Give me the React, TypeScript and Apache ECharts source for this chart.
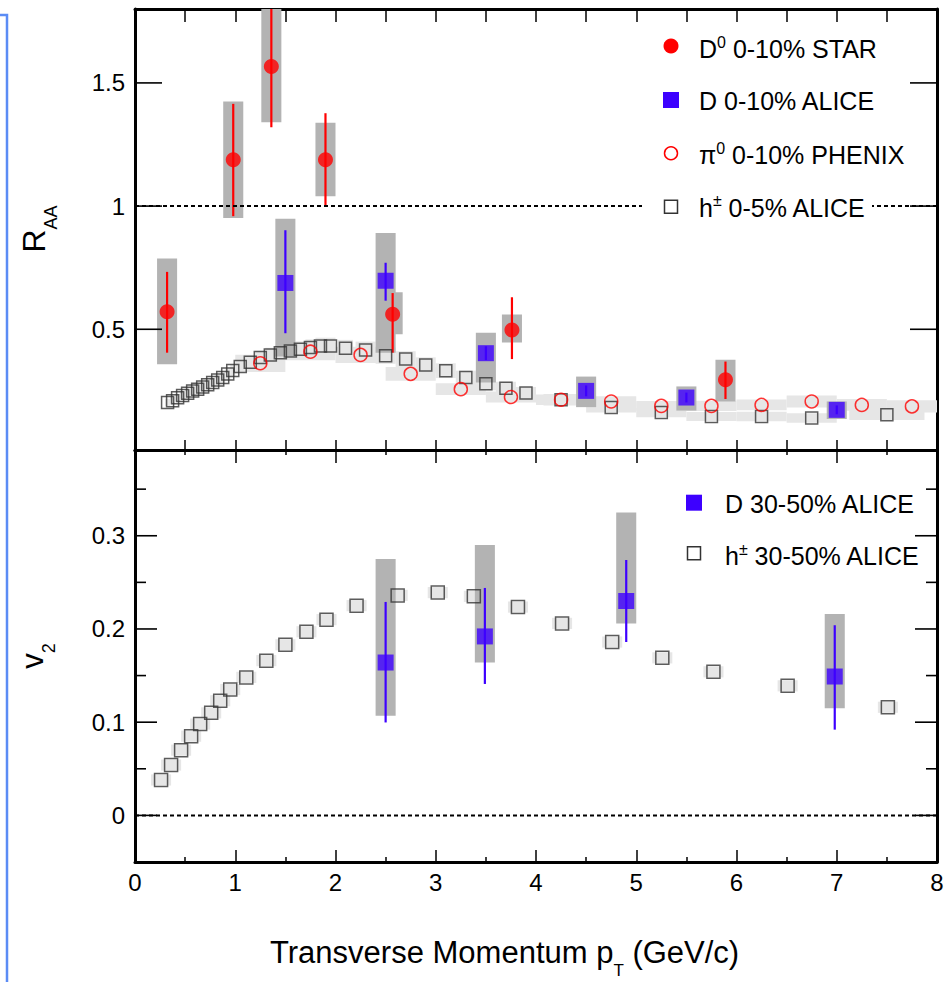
import React, { useEffect, useRef } from 'react';
import * as echarts from 'echarts';

const FONT = '"Liberation Sans", Arial, Helvetica, sans-serif';

// ---------- axes ----------
const ptRange = [0, 8];
const raaRange = [0.01, 1.8];
const v2Range = [-0.05, 0.392];
const raaTickValues = [0.5, 1, 1.5];
const v2TickValues = [0, 0.1, 0.2, 0.3];
const v2MinorTickValues = [0.05, 0.15, 0.25, 0.35];
const raaReference = [[0, 1], [8, 1]];
const v2Reference = [[0, 0], [8, 0]];

// ---------- R_AA : D0 0-10% STAR ----------
const d0StarPt = [0.32, 0.98, 1.36, 1.9, 2.57, 3.76, 5.89];
const d0StarRaa = [0.571, 1.188, 1.567, 1.188, 0.561, 0.497, 0.295];
const d0StarStatLo = [0.405, 0.959, 1.32, 0.999, 0.405, 0.379, 0.217];
const d0StarStatHi = [0.733, 1.415, 1.9, 1.377, 0.647, 0.63, 0.369];
const d0StarSysLo = [0.358, 0.952, 1.34, 1.04, 0.48, 0.446, 0.207];
const d0StarSysHi = [0.787, 1.425, 1.9, 1.338, 0.65, 0.56, 0.376];

// ---------- R_AA : D 0-10% ALICE ----------
const dAliceRaaPt = [1.5, 2.5, 3.5, 4.5, 5.5, 7.0];
const dAliceRaa = [0.688, 0.697, 0.403, 0.25, 0.223, 0.173];
const dAliceRaaStatLo = [0.484, 0.616, 0.375, 0.228, 0.203, 0.155];
const dAliceRaaStatHi = [0.902, 0.77, 0.431, 0.272, 0.243, 0.191];
const dAliceRaaSysLo = [0.39, 0.405, 0.284, 0.184, 0.17, 0.136];
const dAliceRaaSysHi = [0.949, 0.891, 0.486, 0.308, 0.268, 0.207];

// ---------- R_AA : pi0 0-10% PHENIX ----------
const pi0Pt = [1.25, 1.75, 2.25, 2.75, 3.25, 3.75, 4.25, 4.75, 5.25, 5.75, 6.25, 6.75, 7.25, 7.75];
const pi0Raa = [0.362, 0.409, 0.396, 0.319, 0.257, 0.225, 0.214, 0.207, 0.189, 0.189, 0.193, 0.207, 0.193, 0.187];
const pi0Sys = [0.035, 0.035, 0.033, 0.028, 0.024, 0.022, 0.021, 0.021, 0.02, 0.021, 0.022, 0.024, 0.024, 0.025];

// ---------- R_AA : h+- 0-5% ALICE ----------
const hRaaPt = [0.325, 0.375, 0.425, 0.475, 0.525, 0.575, 0.625, 0.675, 0.725, 0.775, 0.825, 0.875, 0.925, 0.975,
  1.05, 1.15, 1.25, 1.35, 1.45, 1.55, 1.65, 1.75, 1.85, 1.95,
  2.1, 2.3, 2.5, 2.7, 2.9, 3.1, 3.3, 3.5, 3.7, 3.9,
  4.25, 4.75, 5.25, 5.75, 6.25, 6.75, 7.5];
const hRaa = [0.203, 0.21, 0.222, 0.231, 0.24, 0.249, 0.257, 0.266, 0.275, 0.284, 0.294, 0.304, 0.318, 0.333,
  0.349, 0.366, 0.385, 0.396, 0.405, 0.412, 0.419, 0.426, 0.432, 0.432,
  0.423, 0.416, 0.393, 0.379, 0.355, 0.332, 0.304, 0.279, 0.261, 0.241,
  0.214, 0.183, 0.162, 0.146, 0.146, 0.14, 0.153];
const hRaaSys = [0.015, 0.015, 0.016, 0.016, 0.017, 0.017, 0.018, 0.018, 0.019, 0.019, 0.02, 0.021, 0.022, 0.023,
  0.024, 0.026, 0.028, 0.029, 0.03, 0.031, 0.032, 0.033, 0.034, 0.034,
  0.034, 0.034, 0.033, 0.032, 0.031, 0.03, 0.028, 0.027, 0.026, 0.025,
  0.023, 0.021, 0.019, 0.018, 0.019, 0.019, 0.021];

// ---------- v2 : D 30-50% ALICE ----------
const dV2Pt = [2.5, 3.49, 4.9, 6.98];
const dV2 = [0.164, 0.192, 0.23, 0.149];
const dV2StatLo = [0.0997, 0.141, 0.186, 0.092];
const dV2StatHi = [0.229, 0.244, 0.274, 0.204];
const dV2SysLo = [0.107, 0.164, 0.206, 0.115];
const dV2SysHi = [0.275, 0.29, 0.325, 0.216];

// ---------- v2 : h+- 30-50% ALICE ----------
const hV2Pt = [0.26, 0.36, 0.46, 0.56, 0.65, 0.76, 0.85, 0.95, 1.11, 1.31, 1.5, 1.71, 1.91,
  2.21, 2.62, 3.02, 3.38, 3.82, 4.26, 4.76, 5.26, 5.77, 6.51, 7.51];
const hV2 = [0.038, 0.054, 0.07, 0.085, 0.098, 0.11, 0.123, 0.135, 0.148, 0.166, 0.183, 0.197, 0.21,
  0.225, 0.236, 0.239, 0.235, 0.2235, 0.206, 0.186, 0.169, 0.154, 0.139, 0.116];
const hV2Sys = [0.006, 0.006, 0.006, 0.006, 0.006, 0.006, 0.006, 0.006, 0.006, 0.006, 0.006, 0.006, 0.006,
  0.006, 0.006, 0.006, 0.006, 0.006, 0.006, 0.006, 0.006, 0.006, 0.006, 0.006];

// ---------- styles ----------
const RED = '#ff0000';
const BLUE = '#3d00ff';
const DARK_BOX = '#b3b3b3';
const LIGHT_BOX = '#e6e6e6';
const OPEN_SQ = '#333333';
const D_BOX_HALF_WIDTH = 0.1;
const HV2_BOX_HALF_WIDTH = 0.1;

function binHalfWidths(pts: number[]) {
  return pts.map((p, i) => {
    const gaps: number[] = [];
    if (i > 0) gaps.push(p - pts[i - 1]);
    if (i < pts.length - 1) gaps.push(pts[i + 1] - p);
    return Math.min(...gaps) / 2;
  });
}

function boxSeries(name: string, data: number[][], color: string, xi: number, yi: number) {
  return {
    name,
    type: 'custom',
    xAxisIndex: xi,
    yAxisIndex: yi,
    clip: true,
    silent: true,
    data,
    renderItem: (params: any, api: any) => {
      const x = api.value(0);
      const lo = api.value(1);
      const hi = api.value(2);
      const hw = api.value(3);
      const p1 = api.coord([x - hw, hi]);
      const p2 = api.coord([x + hw, lo]);
      return {
        type: 'rect',
        shape: { x: p1[0], y: p1[1], width: p2[0] - p1[0], height: p2[1] - p1[1] },
        style: { fill: color },
      };
    },
  };
}

function errSeries(name: string, data: number[][], color: string, xi: number, yi: number) {
  return {
    name,
    type: 'custom',
    xAxisIndex: xi,
    yAxisIndex: yi,
    clip: true,
    silent: true,
    data,
    renderItem: (params: any, api: any) => {
      const x = api.value(0);
      const a = api.coord([x, api.value(1)]);
      const b = api.coord([x, api.value(2)]);
      return {
        type: 'line',
        shape: { x1: a[0], y1: a[1], x2: b[0], y2: b[1] },
        style: { stroke: color, lineWidth: 2.2 },
      };
    },
  };
}

// y ticks on both vertical frame edges, placed through the axis scale
function yTickSeries(values: number[], len: number, xi: number, yi: number) {
  return {
    type: 'custom',
    xAxisIndex: xi,
    yAxisIndex: yi,
    silent: true,
    z: 5,
    data: values.map((v) => [ptRange[0], v]),
    renderItem: (params: any, api: any) => {
      const y = api.value(1);
      const l = api.coord([ptRange[0], y]);
      const r = api.coord([ptRange[1], y]);
      return {
        type: 'group',
        children: [
          { type: 'line', shape: { x1: l[0], y1: l[1], x2: l[0] + len, y2: l[1] }, style: { stroke: '#000', lineWidth: 1.6 } },
          { type: 'line', shape: { x1: r[0] - len, y1: r[1], x2: r[0], y2: r[1] }, style: { stroke: '#000', lineWidth: 1.6 } },
        ],
      };
    },
  };
}

function scatterSeries(name: string, xs: number[], ys: number[], xi: number, yi: number, symbol: string, size: number, itemStyle: any) {
  return {
    name,
    type: 'scatter',
    xAxisIndex: xi,
    yAxisIndex: yi,
    silent: true,
    symbol,
    symbolSize: size,
    itemStyle,
    data: xs.map((x, i) => [x, ys[i]]),
  };
}

function refLine(data: number[][], xi: number, yi: number) {
  return {
    type: 'line',
    xAxisIndex: xi,
    yAxisIndex: yi,
    silent: true,
    showSymbol: false,
    symbol: 'none',
    data,
    lineStyle: { color: '#000', width: 2, type: [4, 3] },
  };
}

const axisLine = { show: true, onZero: false, lineStyle: { color: '#000', width: 3 } };
const tickLine = { color: '#000', width: 1.5 };
const labelStyle = { fontFamily: FONT, fontSize: 24, color: '#000' };
const tick = (length: number) => ({ show: true, inside: true, length, lineStyle: tickLine });
const minor = (length: number) => ({ show: true, splitNumber: 2, length, lineStyle: tickLine });

function buildOption() {
  const hRaaHW = binHalfWidths(hRaaPt);
  const pi0HW = binHalfWidths(pi0Pt);

  const series: any[] = [
    // ---- top panel (R_AA) ----
    boxSeries('h sys', hRaaPt.map((p, i) => [p, hRaa[i] - hRaaSys[i], hRaa[i] + hRaaSys[i], hRaaHW[i]]), LIGHT_BOX, 0, 0),
    boxSeries('pi0 sys', pi0Pt.map((p, i) => [p, pi0Raa[i] - pi0Sys[i], pi0Raa[i] + pi0Sys[i], pi0HW[i]]), LIGHT_BOX, 0, 0),
    scatterSeries('h± 0-5% ALICE', hRaaPt, hRaa, 0, 0, 'rect', 12,
      { color: 'rgba(0,0,0,0)', borderColor: OPEN_SQ, borderWidth: 1.5 }),
    scatterSeries('π0 0-10% PHENIX', pi0Pt, pi0Raa, 0, 0, 'circle', 13,
      { color: 'rgba(0,0,0,0)', borderColor: RED, borderWidth: 1.5 }),
    yTickSeries(raaTickValues, 27, 0, 0),
    refLine(raaReference, 0, 0),
    boxSeries('D0 sys', d0StarPt.map((p, i) => [p, d0StarSysLo[i], d0StarSysHi[i], D_BOX_HALF_WIDTH]), DARK_BOX, 0, 0),
    boxSeries('D sys', dAliceRaaPt.map((p, i) => [p, dAliceRaaSysLo[i], dAliceRaaSysHi[i], D_BOX_HALF_WIDTH]), DARK_BOX, 0, 0),
    errSeries('D0 stat', d0StarPt.map((p, i) => [p, d0StarStatLo[i], d0StarStatHi[i]]), RED, 0, 0),
    scatterSeries('D0 0-10% STAR', d0StarPt, d0StarRaa, 0, 0, 'circle', 15, { color: RED }),
    errSeries('D stat', dAliceRaaPt.map((p, i) => [p, dAliceRaaStatLo[i], dAliceRaaStatHi[i]]), BLUE, 0, 0),
    scatterSeries('D 0-10% ALICE', dAliceRaaPt, dAliceRaa, 0, 0, 'rect', 16, { color: BLUE }),
    // ---- bottom panel (v2) ----
    boxSeries('h v2 sys', hV2Pt.map((p, i) => [p, hV2[i] - hV2Sys[i], hV2[i] + hV2Sys[i], HV2_BOX_HALF_WIDTH]), LIGHT_BOX, 2, 2),
    yTickSeries(v2TickValues, 22, 2, 2),
    yTickSeries(v2MinorTickValues, 11, 2, 2),
    refLine(v2Reference, 2, 2),
    scatterSeries('h± 30-50% ALICE', hV2Pt, hV2, 2, 2, 'rect', 13,
      { color: 'rgba(0,0,0,0)', borderColor: OPEN_SQ, borderWidth: 1.5 }),
    boxSeries('D v2 sys', dV2Pt.map((p, i) => [p, dV2SysLo[i], dV2SysHi[i], D_BOX_HALF_WIDTH]), DARK_BOX, 2, 2),
    errSeries('D v2 stat', dV2Pt.map((p, i) => [p, dV2StatLo[i], dV2StatHi[i]]), BLUE, 2, 2),
    scatterSeries('D 30-50% ALICE', dV2Pt, dV2, 2, 2, 'rect', 16, { color: BLUE }),
  ];

  const xBase = { type: 'value', min: ptRange[0], max: ptRange[1], axisLine, splitLine: { show: false } };
  const xAxis = [
    { ...xBase, gridIndex: 0, position: 'bottom', interval: 0.5, axisTick: tick(10), axisLabel: { show: false } },
    { ...xBase, gridIndex: 0, position: 'top', interval: 0.5, axisTick: tick(13), axisLabel: { show: false } },
    { ...xBase, gridIndex: 1, position: 'bottom', interval: 1, axisTick: tick(12), minorTick: minor(5),
      axisLabel: { show: true, margin: 8, ...labelStyle } },
    { ...xBase, gridIndex: 1, position: 'top', interval: 1, axisTick: tick(13), minorTick: minor(5),
      axisLabel: { show: false } },
  ];

  const yBase = { type: 'value', splitLine: { show: false }, axisLine, axisTick: { show: false }, minorTick: { show: false } };
  const yAxis = [
    { ...yBase, gridIndex: 0, position: 'left', min: raaRange[0], max: raaRange[1], splitNumber: 3,
      axisLabel: { show: true, margin: 10, customValues: raaTickValues, ...labelStyle } },
    { ...yBase, gridIndex: 0, position: 'right', min: raaRange[0], max: raaRange[1], splitNumber: 3,
      axisLabel: { show: false } },
    { ...yBase, gridIndex: 1, position: 'left', min: v2Range[0], max: v2Range[1], splitNumber: 5,
      axisLabel: { show: true, margin: 10, customValues: v2TickValues, ...labelStyle } },
    { ...yBase, gridIndex: 1, position: 'right', min: v2Range[0], max: v2Range[1], splitNumber: 5,
      axisLabel: { show: false } },
  ];

  const legendRich = {
    m: { fontFamily: FONT, fontSize: 25, fill: '#000' },
    s: { fontFamily: FONT, fontSize: 16, fill: '#000', padding: [0, 0, 13, 0] },
    pm: { fontFamily: FONT, fontSize: 16, fill: '#000', padding: [0, 0, 14, 0] },
  };
  const legendText = (x: number, y: number, text: string) => ({
    type: 'text', x, y, z: 101,
    style: { text, rich: legendRich, align: 'left', verticalAlign: 'middle' },
  });

  const graphic: any[] = [
    { type: 'polyline', z: 100, shape: { points: [[0, 15], [7, 15], [7, 982]] },
      style: { stroke: '#5b8cf5', lineWidth: 2.5, fill: 'none' } },
    // y titles
    { type: 'text', x: 33.5, y: 229, rotation: Math.PI / 2, z: 100,
      style: {
        text: '{a|R}{b|AA}', align: 'center', verticalAlign: 'middle',
        rich: {
          a: { fontFamily: FONT, fontSize: 32, fill: '#000' },
          b: { fontFamily: FONT, fontSize: 18, fill: '#000', padding: [35, 0, 0, 0] },
        },
      } },
    { type: 'text', x: 32, y: 656, rotation: Math.PI / 2, z: 100,
      style: {
        text: '{a|v}{b|2}', align: 'center', verticalAlign: 'middle',
        rich: {
          a: { fontFamily: FONT, fontSize: 31, fill: '#000' },
          b: { fontFamily: FONT, fontSize: 18, fill: '#000', padding: [34, 0, 0, 0] },
        },
      } },
    // x title
    { type: 'text', x: 270, y: 952, z: 100,
      style: {
        text: '{a|Transverse Momentum p}{b|T}{a| (GeV/c)}', align: 'left', verticalAlign: 'middle',
        rich: {
          a: { fontFamily: FONT, fontSize: 31, fill: '#000' },
          b: { fontFamily: FONT, fontSize: 17, fill: '#000', padding: [37, 0, 0, 0] },
        },
      } },
    // top legend
    { type: 'rect', z: 99, shape: { x: 642, y: 195, width: 230, height: 24 }, style: { fill: '#ffffff' } },
    { type: 'circle', z: 101, shape: { cx: 671, cy: 46, r: 7.5 }, style: { fill: RED } },
    legendText(699, 48.5, '{m|D}{s|0}{m| 0-10% STAR}'),
    { type: 'rect', z: 101, shape: { x: 663, y: 92, width: 16, height: 16 }, style: { fill: BLUE } },
    legendText(699, 101, '{m|D 0-10% ALICE}'),
    { type: 'circle', z: 101, shape: { cx: 671, cy: 153.3, r: 6.5 }, style: { fill: 'none', stroke: RED, lineWidth: 1.5 } },
    legendText(699, 155, '{m|π}{s|0}{m| 0-10% PHENIX}'),
    { type: 'rect', z: 101, shape: { x: 664.5, y: 200.2, width: 13, height: 13 }, style: { fill: 'none', stroke: OPEN_SQ, lineWidth: 1.5 } },
    legendText(699, 207.5, '{m|h}{pm|±}{m| 0-5% ALICE}'),
    // bottom legend
    { type: 'rect', z: 101, shape: { x: 686, y: 494.7, width: 16, height: 16 }, style: { fill: BLUE } },
    legendText(725, 504, '{m|D 30-50% ALICE}'),
    { type: 'rect', z: 101, shape: { x: 687.5, y: 546.8, width: 13, height: 13 }, style: { fill: 'none', stroke: OPEN_SQ, lineWidth: 1.5 } },
    legendText(725, 556, '{m|h}{pm|±}{m| 30-50% ALICE}'),
  ];

  return {
    animation: false,
    backgroundColor: '#ffffff',
    textStyle: { fontFamily: FONT },
    grid: [
      { left: 135, top: 9, width: 802, height: 441, containLabel: false },
      { left: 135, top: 450, width: 802, height: 412, containLabel: false },
    ],
    xAxis,
    yAxis,
    series,
    graphic,
  };
}

export default function App() {
  const ref = useRef<HTMLDivElement>(null);
  useEffect(() => {
    if (!ref.current) return;
    const chart = echarts.init(ref.current, undefined, { renderer: 'svg' });
    chart.setOption(buildOption() as any);
    return () => chart.dispose();
  }, []);
  return (
    <div
      ref={ref}
      style={{ position: 'absolute', left: 0, top: 0, width: 947, height: 982, background: '#fff' }}
    />
  );
}
